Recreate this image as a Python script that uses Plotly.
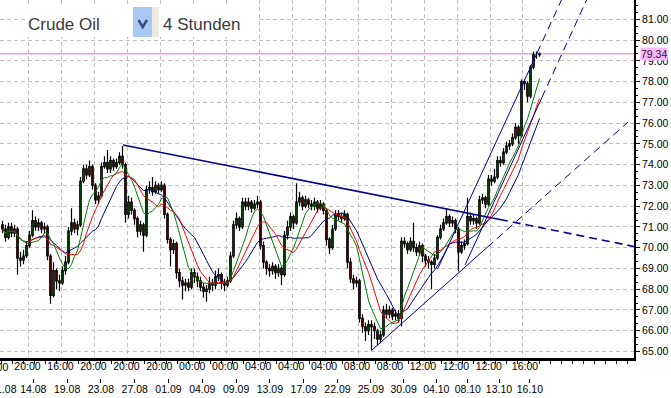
import plotly.graph_objects as go
import pandas as pd

# ---------------- data (4h candles, bar index 0..179) ----------------
OPEN = [
    71.1, 70.9, 70.5, 71.0, 70.7, 70.9, 69.5, 69.4, 69.6, 70.1,
    70.6, 71.3, 71.0, 71.2, 70.9, 71.0, 69.6, 67.7, 68.9, 68.4,
    68.3, 68.9, 69.3, 70.8, 71.2, 70.9, 71.1, 73.2, 73.8, 73.5,
    73.9, 73.0, 72.3, 72.5, 73.9, 74.1, 73.8, 74.2, 73.9, 74.1,
    74.4, 74.0, 71.6, 72.2, 71.8, 71.4, 70.8, 71.1, 70.6, 72.8,
    72.9, 72.7, 73.0, 72.8, 73.0, 71.6, 70.4, 69.9, 70.2, 68.8,
    68.4, 68.2, 68.3, 68.1, 68.8, 68.6, 68.4, 68.1, 67.9, 68.0,
    68.3, 68.2, 68.6, 68.7, 68.3, 68.2, 68.4, 69.6, 71.1, 71.4,
    71.0, 72.2, 72.0, 72.2, 71.9, 72.1, 72.2, 70.1, 69.3, 69.0,
    68.9, 69.1, 68.8, 69.0, 68.7, 70.6, 71.0, 71.5, 71.2, 72.2,
    72.4, 72.0, 72.3, 72.1, 72.0, 72.2, 71.9, 72.1, 71.8, 70.4,
    70.0, 70.9, 71.6, 71.5, 71.4, 71.6, 69.3, 68.5, 68.3, 68.4,
    66.6, 66.2, 66.0, 66.3, 66.2, 66.0, 65.6, 65.8, 67.0, 66.8,
    67.0, 66.7, 66.8, 66.6, 70.3, 70.2, 69.9, 70.3, 70.0, 69.8,
    70.1, 69.6, 69.4, 69.3, 69.2, 69.5, 70.5, 70.9, 71.2, 71.5,
    71.2, 71.3, 70.9, 69.8, 70.1, 70.2, 71.5, 71.3, 71.4, 71.2,
    72.3, 72.4, 72.1, 73.3, 73.2, 73.4, 74.2, 74.1, 74.6, 74.9,
    75.0, 75.3, 75.8, 75.4, 78.0, 77.9, 77.3, 78.7, 79.3, 79.3,
]
HIGH = [
    71.3, 71.1, 71.2, 71.2, 71.1, 71.0, 69.8, 69.9, 70.3, 70.8,
    71.8, 71.5, 71.4, 71.3, 71.2, 71.1, 69.7, 69.3, 69.0, 68.7,
    69.1, 69.6, 71.0, 71.9, 71.4, 71.3, 73.4, 74.0, 74.0, 74.2,
    74.0, 73.1, 72.7, 74.1, 74.4, 74.7, 74.4, 74.3, 74.3, 74.6,
    74.9, 74.1, 72.5, 72.4, 71.9, 71.5, 71.3, 71.2, 73.0, 73.2,
    73.4, 73.2, 73.1, 73.2, 73.1, 71.7, 70.5, 70.4, 70.3, 69.0,
    68.6, 68.5, 68.5, 69.0, 69.0, 68.8, 68.6, 68.3, 68.2, 68.6,
    68.5, 68.9, 69.0, 68.8, 68.5, 68.6, 69.8, 71.3, 71.7, 71.5,
    72.4, 72.4, 72.4, 72.3, 72.3, 72.5, 72.3, 70.3, 69.4, 69.2,
    69.3, 69.2, 69.2, 69.1, 70.8, 71.3, 71.7, 71.6, 73.1, 72.7,
    72.5, 72.5, 72.4, 72.3, 72.4, 72.3, 72.3, 72.2, 71.9, 70.5,
    71.1, 71.8, 71.8, 71.7, 71.8, 71.7, 69.5, 68.7, 68.6, 68.5,
    66.8, 66.4, 66.5, 66.5, 66.4, 66.1, 66.0, 67.2, 67.3, 67.2,
    67.1, 67.0, 67.0, 70.5, 70.5, 70.3, 70.5, 71.2, 70.2, 70.3,
    70.2, 69.7, 69.6, 69.4, 69.7, 70.6, 71.1, 71.4, 71.9, 71.6,
    71.5, 71.4, 71.0, 70.3, 70.4, 72.4, 71.7, 71.6, 71.5, 72.5,
    72.6, 72.5, 73.5, 73.5, 73.8, 74.4, 74.4, 74.8, 75.1, 75.2,
    75.5, 76.0, 75.9, 78.1, 78.1, 78.0, 78.8, 79.45, 79.45, 79.4,
]
LOW = [
    70.7, 70.3, 70.4, 70.5, 70.5, 68.7, 69.1, 69.2, 69.5, 70.0,
    70.5, 70.8, 70.8, 70.7, 70.7, 69.4, 67.3, 67.6, 68.0, 67.9,
    68.2, 68.7, 69.2, 70.6, 70.7, 70.6, 71.0, 73.1, 73.3, 73.4,
    72.8, 72.1, 72.1, 72.4, 73.8, 73.6, 73.6, 73.7, 73.8, 74.0,
    73.8, 71.2, 71.4, 71.6, 71.1, 70.5, 70.6, 69.8, 70.5, 72.6,
    72.5, 72.6, 72.6, 72.7, 71.4, 70.2, 69.1, 69.7, 68.5, 68.1,
    67.5, 67.9, 67.9, 68.0, 68.3, 68.1, 67.9, 67.6, 67.4, 67.8,
    67.9, 68.0, 68.4, 68.0, 67.9, 68.1, 68.3, 69.5, 70.9, 70.8,
    70.9, 71.8, 71.8, 71.7, 71.8, 71.9, 69.9, 69.0, 68.7, 68.6,
    68.7, 68.5, 68.6, 68.2, 68.6, 70.4, 70.8, 70.9, 71.1, 72.0,
    71.8, 71.9, 71.9, 71.8, 71.8, 71.7, 71.8, 71.6, 70.1, 69.7,
    69.9, 70.8, 71.3, 71.2, 71.3, 69.0, 68.3, 68.0, 68.1, 66.4,
    65.9, 65.5, 65.8, 65.05, 65.6, 65.3, 65.4, 65.7, 66.6, 66.6,
    66.5, 66.5, 66.4, 66.2, 70.0, 69.7, 69.8, 69.8, 69.6, 69.6,
    69.3, 69.1, 69.0, 68.0, 69.0, 69.4, 70.4, 70.8, 71.1, 71.0,
    71.0, 70.7, 68.85, 69.7, 69.9, 70.1, 71.1, 71.1, 70.9, 71.1,
    72.1, 71.9, 72.0, 73.0, 73.1, 73.3, 73.9, 74.0, 74.5, 74.7,
    74.9, 75.2, 75.0, 75.3, 77.6, 77.0, 77.2, 78.6, 79.1, 79.2,
]
CLOSE = [
    70.9, 70.5, 71.0, 70.7, 70.9, 69.5, 69.4, 69.6, 70.1, 70.6,
    71.3, 71.0, 71.2, 70.9, 71.0, 69.6, 67.7, 68.9, 68.4, 68.3,
    68.9, 69.3, 70.8, 71.2, 70.9, 71.1, 73.2, 73.8, 73.5, 73.9,
    73.0, 72.3, 72.5, 73.9, 74.1, 73.8, 74.2, 73.9, 74.1, 74.4,
    74.0, 71.6, 72.2, 71.8, 71.4, 70.8, 71.1, 70.6, 72.8, 72.9,
    72.7, 73.0, 72.8, 73.0, 71.6, 70.4, 69.9, 70.2, 68.8, 68.4,
    68.2, 68.3, 68.1, 68.8, 68.6, 68.4, 68.1, 67.9, 68.0, 68.3,
    68.2, 68.6, 68.7, 68.3, 68.2, 68.4, 69.6, 71.1, 71.4, 71.0,
    72.2, 72.0, 72.2, 71.9, 72.1, 72.2, 70.1, 69.3, 69.0, 68.9,
    69.1, 68.8, 69.0, 68.7, 70.6, 71.0, 71.5, 71.2, 72.2, 72.4,
    72.0, 72.3, 72.1, 72.0, 72.2, 71.9, 72.1, 71.8, 70.4, 70.0,
    70.9, 71.6, 71.5, 71.4, 71.6, 69.3, 68.5, 68.3, 68.4, 66.6,
    66.2, 66.0, 66.3, 66.2, 66.0, 65.6, 65.8, 67.0, 66.8, 67.0,
    66.7, 66.8, 66.6, 70.3, 70.2, 69.9, 70.3, 70.0, 69.8, 70.1,
    69.6, 69.4, 69.3, 69.2, 69.5, 70.5, 70.9, 71.2, 71.5, 71.2,
    71.3, 70.9, 69.8, 70.1, 70.2, 71.5, 71.3, 71.4, 71.2, 72.3,
    72.4, 72.1, 73.3, 73.2, 73.4, 74.2, 74.1, 74.6, 74.9, 75.0,
    75.3, 75.8, 75.4, 78.0, 77.9, 77.3, 78.7, 79.3, 79.3, 79.34,
]
BARS = list(range(len(CLOSE)))

MA_FAST = 8
MA_MID = 12
MA_SLOW = 17
LAST_PRICE = 79.34

# trend lines: [start, start of dashed part, end] in (bar, price)
RESIST_X = [40.2, 165.8, 210.5]
RESIST_Y = [74.95, 71.36, 70.06]
SUPPORT_X = [123.0, 161.5, 208.5]
SUPPORT_Y = [65.05, 70.01, 76.05]
CHAN_UP_X = [145.0, 178.2, 188.0]
CHAN_UP_Y = [68.96, 79.38, 82.46]
CHAN_LOW_X = [154.2, 179.8, 196.0]
CHAN_LOW_Y = [69.17, 77.23, 82.34]

# axis ticks
Y_TICKS = list(range(65, 82))
GRID_POS = [8.73, 19.72, 30.70, 41.68, 52.67, 63.65, 74.63, 85.62,
            96.60, 107.58, 118.57, 129.55, 140.53, 151.52, 162.50, 173.48]
TIME_POS = [8.33, 19.32, 30.30, 41.28, 52.27, 63.25, 74.23, 85.22,
            96.20, 107.18, 118.17, 129.15, 140.13, 151.12, 162.10, 174.17]
TIME_TEXT = ["20:00", "16:00", "20:00", "20:00", "20:00", "00:00", "00:00", "04:00",
             "04:00", "04:00", "08:00", "08:00", "12:00", "12:00", "12:00", "16:00"]
DATE_POS = [10.27, 21.53, 32.80, 44.07, 55.33, 66.60, 77.87, 89.13,
            100.40, 111.67, 122.80, 133.70, 144.60, 155.10, 165.50, 175.80]
DATE_TEXT = ["14.08", "19.08", "23.08", "27.08", "01.09", "04.09", "09.09", "13.09",
             "17.09", "22.09", "25.09", "30.09", "04.10", "08.10", "13.10", "16.10"]
FIRST_TIME_TEXT = "20:00"
FIRST_DATE_TEXT = "11.08"

# ---------------- figure ----------------
W, H = 671, 398
PLOT_W, PLOT_H = 634, 358
FONT = "Liberation Sans, Arial, sans-serif"
X_RANGE = [-0.833, 210.5]
Y_RANGE = [64.687, 81.93]

def px_x(px):
    return px / PLOT_W

def px_y(py):
    return 1 - py / H

fig = go.Figure()

fig.add_trace(go.Candlestick(
    x=BARS, open=OPEN, high=HIGH, low=LOW, close=CLOSE,
    increasing=dict(line=dict(color="black", width=1.2), fillcolor="#00e400"),
    decreasing=dict(line=dict(color="black", width=1.2), fillcolor="#ff0000"),
    whiskerwidth=0, hoverinfo="skip", showlegend=False,
))

close_s = pd.Series(CLOSE)
for period, color in [(MA_SLOW, "#000080"), (MA_MID, "#ff0000"), (MA_FAST, "#008000")]:
    ma = close_s.rolling(period, min_periods=1).mean()
    fig.add_trace(go.Scatter(x=BARS, y=ma, mode="lines",
                             line=dict(color=color, width=1),
                             hoverinfo="skip", showlegend=False))

TL_COLOR = "#00008b"
for xs, ys, w in [(RESIST_X, RESIST_Y, 1.6), (SUPPORT_X, SUPPORT_Y, 1),
                  (CHAN_UP_X, CHAN_UP_Y, 1), (CHAN_LOW_X, CHAN_LOW_Y, 1)]:
    fig.add_trace(go.Scatter(x=xs[:2], y=ys[:2], mode="lines",
                             line=dict(color=TL_COLOR, width=w),
                             hoverinfo="skip", showlegend=False))
    fig.add_trace(go.Scatter(x=xs[1:], y=ys[1:], mode="lines",
                             line=dict(color=TL_COLOR, width=w, dash="8px,5px"),
                             hoverinfo="skip", showlegend=False))

# invisible helpers so that the grid axis and the date axis are drawn
for ax in ["x2", "x3"]:
    fig.add_trace(go.Scatter(x=[BARS[0]], y=[CLOSE[0]], xaxis=ax, yaxis="y",
                             mode="markers", marker=dict(opacity=0),
                             hoverinfo="skip", showlegend=False))

tickfont = dict(family=FONT, size=10.5, color="#000000")

fig.update_layout(
    width=W, height=H,
    margin=dict(l=0, r=W - PLOT_W, t=0, b=0, autoexpand=False),
    paper_bgcolor="white", plot_bgcolor="white",
    showlegend=False,
    xaxis=dict(
        domain=[0, 1], range=X_RANGE, anchor="y", automargin=False,
        rangeslider=dict(visible=False),
        tickmode="array", tickvals=TIME_POS, ticktext=TIME_TEXT, tickangle=0,
        ticks="", showgrid=False, zeroline=False, ticklabelstandoff=-3,
        showline=True, linecolor="black", linewidth=2.5,
        minor=dict(ticks="outside", ticklen=3, tickcolor="black",
                   tick0=-0.27, dtick=3.661, showgrid=False),
        tickfont=tickfont, fixedrange=True,
    ),
    xaxis2=dict(
        overlaying="x", anchor="y", range=X_RANGE, automargin=False,
        tickmode="array", tickvals=GRID_POS, showticklabels=False, ticks="",
        showgrid=True, gridcolor="#c0c0c0", griddash="4px,3px", gridwidth=1,
        zeroline=False, showline=False, fixedrange=True,
    ),
    xaxis3=dict(
        overlaying="x", anchor="free", position=20 / H, side="bottom", range=X_RANGE,
        automargin=False,
        tickmode="array", tickvals=DATE_POS, ticktext=DATE_TEXT, tickangle=0,
        ticks="outside", ticklen=4, tickcolor="black", tickwidth=1, ticklabelstandoff=-3,
        showgrid=False, zeroline=False, showline=False,
        tickfont=tickfont, fixedrange=True,
    ),
    yaxis=dict(
        domain=[(H - PLOT_H) / H, 1], range=Y_RANGE, side="right", automargin=False,
        tickmode="array", tickvals=Y_TICKS, tickformat=".2f",
        ticks="outside", ticklen=4, tickcolor="black",
        minor=dict(ticks="outside", ticklen=2, tickcolor="black",
                   tick0=65, dtick=1 / 3, showgrid=False),
        showgrid=True, gridcolor="#c0c0c0", griddash="4px,3px", gridwidth=1,
        zeroline=False, showline=True, linecolor="black", linewidth=2,
        tickfont=tickfont, fixedrange=True,
    ),
)

shapes = [
    # current price line
    dict(type="line", xref="paper", yref="y", x0=0, x1=1, y0=LAST_PRICE, y1=LAST_PRICE,
         line=dict(color="#e8a0e8", width=1.5), layer="between"),
    # header panel
    dict(type="rect", xref="paper", yref="paper", x0=px_x(27), x1=px_x(257),
         y0=px_y(37), y1=px_y(7), fillcolor="white", line=dict(width=0), layer="above"),
    dict(type="rect", xref="paper", yref="paper", x0=px_x(133), x1=px_x(152),
         y0=px_y(37), y1=px_y(7), fillcolor="#aac8f4", line=dict(width=0), layer="above"),
    dict(type="rect", xref="paper", yref="paper", x0=px_x(152), x1=px_x(159),
         y0=px_y(37), y1=px_y(7), fillcolor="#ecebe2", line=dict(width=0), layer="above"),
    dict(type="path", xref="paper", yref="paper",
         path=f"M {px_x(138.5)},{px_y(20)} L {px_x(142.7)},{px_y(27)} L {px_x(147)},{px_y(20)}",
         line=dict(color="#3d4f80", width=2.5), layer="above"),
]
fig.update_layout(shapes=shapes)

head_font = dict(family="Liberation Sans", size=17, color="#3a3a3a")
fig.add_annotation(text="Crude Oil", xref="paper", yref="paper", x=px_x(26), y=px_y(24),
                   xanchor="left", yanchor="middle", showarrow=False, font=head_font)
fig.add_annotation(text="4 Stunden", xref="paper", yref="paper", x=px_x(161), y=px_y(24),
                   xanchor="left", yanchor="middle", showarrow=False, font=head_font)
# current price label on the price axis
fig.add_annotation(text=f"{LAST_PRICE:.2f}", xref="paper", yref="y", x=1, y=LAST_PRICE,
                   xanchor="left", yanchor="middle", xshift=6, showarrow=False,
                   bgcolor="#ffb4ff", borderpad=0,
                   font=dict(family=FONT, size=10.5, color="#202020"))
# partially visible first labels at the left edge
fig.add_annotation(text=FIRST_TIME_TEXT, xref="paper", yref="paper", x=px_x(-5.5), y=px_y(367),
                   xanchor="center", yanchor="middle", showarrow=False, font=tickfont)
fig.add_annotation(text=FIRST_DATE_TEXT, xref="paper", yref="paper", x=px_x(3.5), y=px_y(389),
                   xanchor="center", yanchor="middle", showarrow=False, font=tickfont)

fig.write_html("out.html", config={"displayModeBar": False},
               post_script="document.body.style.margin='0';document.body.style.padding='0';")
